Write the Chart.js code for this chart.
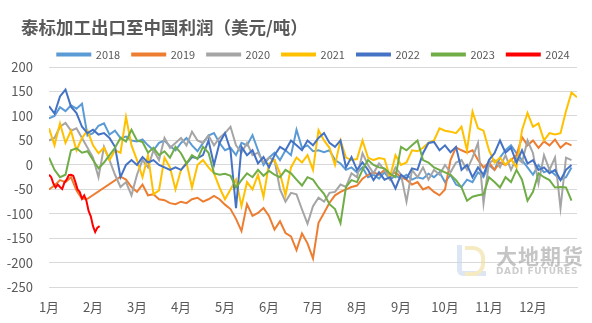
<!DOCTYPE html>
<html>
<head>
<meta charset="utf-8">
<script src="https://cdn.jsdelivr.net/npm/chart.js@4/dist/chart.umd.min.js"></script>
<style>
  html, body { margin: 0; padding: 0; background: #fff; }
  #wrap { position: relative; width: 592px; height: 323px; }
  #title { position: absolute; left: 21px; top: 17px; font: bold 17.5px/20px 'Noto Sans CJK SC', sans-serif; color: #595959; white-space: nowrap; }
  #wm { position: absolute; left: 457px; top: 245px; width: 132px; height: 34px; opacity: 0.6; pointer-events: none; }
  #wm .frame { position: absolute; left: 0; top: 0; width: 24px; height: 26px; border-left: 5px solid #c6d6ec; border-bottom: 5px solid #c6d6ec; border-radius: 0 0 0 6px; }
  #wm .arc { position: absolute; left: 8px; top: 1px; width: 16px; height: 22px; border: 4px solid #f0dc9c; border-left: none; border-radius: 0 12px 12px 0; }
  #wm .cn { position: absolute; left: 39px; top: -2px; font: bold 21px/24px 'Noto Sans CJK SC', sans-serif; color: #9f9f9f; letter-spacing: 1px; white-space: nowrap; }
  #wm .en { position: absolute; left: 39px; top: 21px; font: bold 9px/10px 'DejaVu Sans', sans-serif; color: #ababab; letter-spacing: 0.6px; white-space: nowrap; }
</style>
</head>
<body>
<div id="wrap">
  <canvas id="c" width="592" height="323"></canvas>
  <div id="title">泰标加工出口至中国利润（美元/吨）</div>
  <div id="wm"><div class="frame"></div><div class="arc"></div><div class="cn">大地期货</div><div class="en">DADI FUTURES</div></div>
</div>
<script>
/* 泰标加工出口至中国利润 — 年度季节性对比 */

const MONTH_LABELS = ["1月", "2月", "3月", "4月", "5月", "6月", "7月", "8月", "9月", "10月", "11月", "12月"];
// 横轴: 每月 8 个采样点 (月份小数)
const xs = Array.from({ length: 97 }, (_, i) => i / 8);

const y2018 = [95, 100, 118, 110, 122, 115, 125, 60, 65, 80, 85, 62, 70, 55, 58, 50, 48, 52, 40, 30,
  45, 50, 38, 30, 45, 55, 40, 28, 45, 60, 65, 45, 30, 35, 20, 45, 40, 61, 30, 0,
  15, 25, 10, 30, 20, 72, 35, 40, 28, 30, 26, 30, 10, 3, -10, -5, -15, -5, -25, -20,
  -28, -15, -30, -22, -28, -20, -30, -25, -28, -18, -25, -15, -35, -20, -40, -45, -30, -35, -15, -25,
  0, -10, 15, 30, 40, 24, 10, -5, -20, 0, -15, -10, -20, -30, -25, -5];

const y2019 = [-50, -42, -31, -35, -25, -52, -69, -69, null, null, null, null, null, -24, -30, -45, -55, -40, -62, -60,
  -70, -72, -78, -80, -75, -78, -70, -67, -75, -70, -63, -70, -81, -90, -110, -135, -80, -104, -98, -88,
  -104, -132, -115, -139, -146, -174, -140, -160, -191, -118, -98, -77, -62, -55, -50, -45, -42, -28, -20, -15,
  -20, -10, -20, -15, -25, -30, -40, -35, -50, -45, -55, -62, -50, 10, 36, 30, 25, 30, 10, -5,
  5, -10, 5, 0, 10, 20, 57, 40, 50, 35, 48, 40, 52, 35, 45, 40];

const y2020 = [50, 55, 78, 86, 70, 75, 55, 35, 15, -25, 37, 10, -20, -45, -35, -62, -20, 10, -5, 30,
  10, 55, 35, 45, 55, 40, 68, 50, 45, 60, 40, 55, 65, 78, 40, 25, 45, 20, 25, 5,
  15, 10, -50, -75, -57, -60, -91, -120, -84, -67, -75, -57, -55, -40, -45, -17, -25, 24, 0, -17,
  3, -10, -30, -5, -20, -75, -10, -25, -5, -30, -10, -20, 0, -15, 5, 10, -10, 15, 45, -79,
  5, 10, -5, 20, -10, 15, 5, 50, 24, -38, 20, -10, 15, -88, 15, 10];

const y2021 = [75, 40, 85, 45, 70, 30, 55, 70, 40, 24, 35, 10, 30, 25, 98, 40, 10, -25, 20, -60,
  -52, 15, -5, -50, -10, 5, -46, 0, 10, -5, -17, -46, -70, -50, -30, -84, -35, -50, -20, -65,
  3, 10, -17, -62, -5, 15, 5, 20, -10, 71, 50, 35, 0, 50, 15, 10, 12, 50, 15, 10,
  14, 12, -25, 20, 0, 5, 30, 28, 35, 45, 50, 75, 70, 68, 65, 78, 30, 109, 75, 70,
  30, 5, 15, 0, 12, -5, 71, 106, 78, 85, 50, 65, 62, 65, 110, 148, 138];

const y2022 = [120, 105, 140, 154, 119, 106, 78, 65, 72, 62, 65, 55, 37, -25, 0, 10, 0, 16, 5, 10,
  0, -5, -10, -5, -10, 3, 16, 14, 20, 50, 0, 45, 65, 30, -88, 37, 20, 30, 3, 16,
  -5, 20, 37, 30, 50, 40, 30, 50, 40, 55, 65, 45, 37, 50, -5, 16, -10, 5, -10, -31,
  -15, -30, -25, -48, -20, -28, -7, -10, 24, 45, 47, 30, 40, 26, 37, -10, 0, -25, -5, -20,
  10, 24, 50, 25, 35, 5, 30, 3, 10, -10, -5, -17, -10, -31, -10, 0];

const y2023 = [15, -10, -25, -20, 30, 34, 25, 28, 10, -7, 5, 20, 35, 55, 48, 72, 50, 47, 25, 35,
  20, 28, 15, 37, 24, 3, 20, 12, 37, 25, -17, -20, -18, -22, -46, -31, -17, -25, -10, -22,
  -12, -20, -25, -10, -17, -30, -42, -25, -30, -46, -59, -80, -90, -119, -45, -31, -35, -10, 10, 0,
  -5, -7, -18, -25, 37, 30, 40, 50, 10, 5, -5, -10, -15, -20, -31, -46, -73, -65, -62, -60,
  -25, -35, -46, -25, -35, -10, -30, -73, -55, -17, -25, -31, -46, -45, -46, -73];

// 2024 年数据较密, 单独的横轴
const x2024 = [0, 0.05, 0.1, 0.15, 0.2, 0.25, 0.3, 0.35, 0.4, 0.45, 0.5, 0.55, 0.6, 0.65, 0.7, 0.75,
  0.8, 0.85, 0.9, 0.95, 1.0, 1.05, 1.1, 1.15];
const y2024 = [-20, -25, -38, -46, -40, -45, -49, -36, -30, -21, -20, -22, -35, -50, -55, -69,
  -62, -73, -94, -105, -125, -137, -128, -125];

const SERIES = [
  ["2018", "#5B9BD5", xs, y2018],
  ["2019", "#ED7D31", xs, y2019],
  ["2020", "#A5A5A5", xs, y2020],
  ["2021", "#FFC000", xs, y2021],
  ["2022", "#4472C4", xs, y2022],
  ["2023", "#70AD47", xs, y2023],
  ["2024", "#FF0000", x2024, y2024],
];

const FONT = "'Noto Sans CJK SC', sans-serif";
const TXT = "#595959";

// 新年份画在上层: 数据集倒序, 图例再反转回来
const datasets = SERIES.slice().reverse().map(([label, color, xv, yv]) => ({
  label,
  data: yv.map((v, i) => ({ x: xv[i], y: v })),
  borderColor: color,
  backgroundColor: color,
  borderWidth: 2,
  pointRadius: 0,
  tension: 0,
  spanGaps: true,
}));

// 图例: 一行放下 7 项, 纵向高度压缩, 横向居中于绘图区
const legendRow = {
  id: "legendRow",
  beforeInit(chart) {
    const lg = chart.legend;
    if (!lg) return;
    const fit = lg.fit.bind(lg);
    lg.fit = function () {
      this.maxWidth = 620;
      fit();
      this.height = 30;
    };
  },
  afterLayout(chart) {
    const lg = chart.legend;
    if (!lg) return;
    lg.left = 37;
    lg.right = 590;
    lg.width = lg.right - lg.left;
  },
};

new Chart(document.getElementById("c"), {
  type: "line",
  data: { datasets },
  plugins: [legendRow],
  options: {
    responsive: false,
    animation: false,
    layout: { padding: { left: 0, right: 15, top: 37, bottom: 4 } },
    plugins: {
      title: { display: false },
      legend: {
        reverse: true,
        fullSize: false,
        labels: {
          color: TXT,
          font: { family: FONT, size: 11 },
          boxWidth: 33,
          boxHeight: 2,
          padding: 12,
        },
      },
      tooltip: { enabled: false },
    },
    scales: {
      x: {
        type: "linear",
        min: 0,
        max: 12,
        afterBuildTicks: (s) => { s.ticks = MONTH_LABELS.map((_, i) => ({ value: i })); },
        ticks: {
          color: TXT,
          font: { family: FONT, size: 13 },
          padding: 4,
          maxRotation: 0,
          autoSkip: false,
          callback: (v) => MONTH_LABELS[v] || "",
        },
        grid: { display: false },
        border: { display: true, color: "#D9D9D9" },
      },
      y: {
        min: -250,
        max: 200,
        afterFit: (s) => { s.width = 49; },
        ticks: { stepSize: 50, color: TXT, font: { family: FONT, size: 13 }, padding: 16 },
        grid: { color: "#D9D9D9", drawTicks: false },
        border: { display: false },
      },
    },
  },
});
</script>
</body>
</html>
